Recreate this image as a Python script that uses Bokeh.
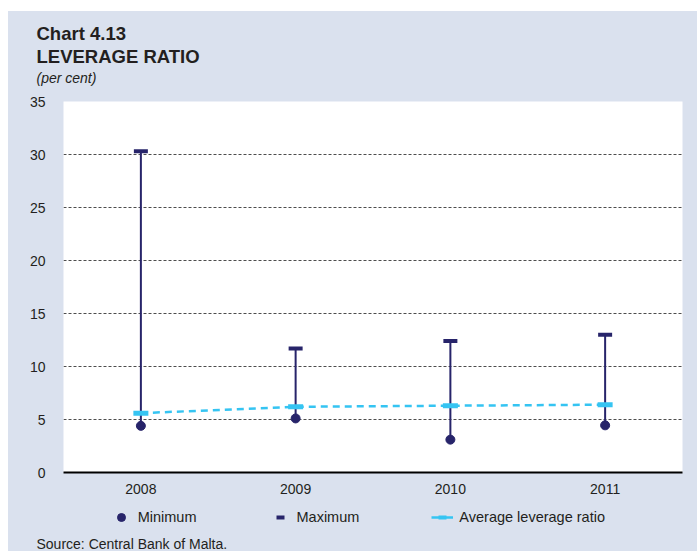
from bokeh.plotting import figure
from bokeh.models import (FactorRange, Range1d, FixedTicker, Legend, Title,
                          LegendItem, ColumnDataSource, Spacer)
from bokeh.layouts import column, row
from bokeh.embed import file_html
from bokeh.resources import INLINE

# ---- data (per cent) ----
years = ["2008", "2009", "2010", "2011"]
minimum = [4.4, 5.1, 3.1, 4.45]
maximum = [30.3, 11.7, 12.4, 13.0]
average = [5.6, 6.2, 6.3, 6.4]
y_ticks = [0, 5, 10, 15, 20, 25, 30, 35]

NAVY = "#27246A"
CYAN = "#35C4F2"
PANEL = "#DAE1EE"
TEXT = "#231F20"
GRID = "#4D4D4D"
FONT = "Liberation Sans"

W = 689
TOP_H, MAIN_H, BOT_H = 80, 412, 48
BL, BR = 55, 15  # left / right borders shared by all three figures


def plain(height, top, bottom):
    f = figure(width=W, height=height, x_range=Range1d(0, 1), y_range=Range1d(0, 1),
               x_axis_type=None, y_axis_type=None,
               output_backend="svg", toolbar_location=None,
               min_border_left=BL, min_border_right=BR,
               min_border_top=top, min_border_bottom=bottom)
    f.grid.visible = False
    f.background_fill_alpha = 0
    f.border_fill_alpha = 0
    f.outline_line_color = None
    return f


common = dict(text_font=FONT, text_color=TEXT, align="left", offset=-27)

# ---- header (titles stack upward from the frame; first added is nearest) ----
top = plain(TOP_H, 74, 0)
top.add_layout(Title(text="(per cent)", text_font_size="14px", text_font_style="italic",
                     standoff=0, **common), "above")
top.add_layout(Title(text="LEVERAGE RATIO", text_font_size="18.5px", text_font_style="bold",
                     standoff=1, **common), "above")
top.add_layout(Title(text="Chart 4.13", text_font_size="18.5px", text_font_style="bold",
                     standoff=0, **common), "above")

# ---- main chart ----
p = figure(width=W, height=MAIN_H, x_range=FactorRange(*years), y_range=Range1d(0, 35),
           output_backend="svg", toolbar_location=None,
           min_border_left=BL, min_border_right=BR, min_border_top=10, min_border_bottom=31)
p.background_fill_color = "white"
p.border_fill_alpha = 0
p.outline_line_color = None

src = ColumnDataSource(dict(year=years, mn=minimum, mx=maximum, avg=average))

p.segment(x0="year", y0="mn", x1="year", y1="mx", source=src, line_color=NAVY, line_width=2)
p.line(x="year", y="avg", source=src, line_color=CYAN, line_width=2.5, line_dash="7 5")
p.scatter(x="year", y="avg", source=src, marker="dash", size=15, line_color=CYAN, line_width=5)
p.scatter(x="year", y="mx", source=src, marker="dash", size=14, line_color=NAVY, line_width=4)
p.scatter(x="year", y="mn", source=src, marker="circle", size=9, fill_color=NAVY, line_color=NAVY)

p.yaxis.ticker = FixedTicker(ticks=y_ticks)
p.yaxis.axis_line_color = None
p.yaxis.major_tick_line_color = None
p.yaxis.minor_tick_line_color = None
p.yaxis.major_label_standoff = 12
p.yaxis.major_label_text_font = FONT
p.yaxis.major_label_text_font_size = "14px"
p.yaxis.major_label_text_color = TEXT

p.xaxis.axis_line_color = "black"
p.xaxis.axis_line_width = 2
p.xaxis.major_tick_line_color = None
p.xaxis.minor_tick_line_color = None
p.xaxis.major_label_standoff = 5
p.xaxis.major_label_text_font = FONT
p.xaxis.major_label_text_font_size = "14px"
p.xaxis.major_label_text_color = TEXT

p.xgrid.grid_line_color = None
p.ygrid.grid_line_color = GRID
p.ygrid.grid_line_dash = "3 2"
p.ygrid.grid_line_width = 1

# ---- footer: legend + source ----
bot = plain(BOT_H, 0, 18)
# legend-only proxies (one undrawable point each, so the legend has a style to use)
proxy = ColumnDataSource(dict(x=[float("nan")], y=[float("nan")]))
lg_min = bot.scatter(x="x", y="y", source=proxy, marker="circle", size=9,
                     fill_color=NAVY, line_color=NAVY)
lg_max = bot.scatter(x="x", y="y", source=proxy, marker="dash", size=10,
                     line_color=NAVY, line_width=4)
lg_avg_line = bot.line(x="x", y="y", source=proxy, line_color=CYAN, line_width=2.5)
lg_avg_mark = bot.scatter(x="x", y="y", source=proxy, marker="dash", size=12,
                          line_color=CYAN, line_width=4)

legend = Legend(items=[LegendItem(label="Minimum", renderers=[lg_min]),
                       LegendItem(label="Maximum", renderers=[lg_max]),
                       LegendItem(label="Average leverage ratio",
                                  renderers=[lg_avg_line, lg_avg_mark])],
                location=(46.7, 6), orientation="horizontal",
                glyph_width=22, glyph_height=20, label_height=20, label_standoff=6,
                spacing=72, padding=0, margin=0, border_line_color=None,
                background_fill_alpha=0, label_text_font=FONT,
                label_text_font_size="14.5px", label_text_color=TEXT)
bot.add_layout(legend)
bot.add_layout(Title(text="Source: Central Bank of Malta.", text_font_size="14px",
                     text_font_style="normal", standoff=0, **common), "below")

panel = column(top, p, bot, styles={"background-color": PANEL})
layout = column(Spacer(width=697, height=11),
                row(Spacer(width=8, height=TOP_H + MAIN_H + BOT_H), panel))
open("out.html", "w").write(file_html(layout, INLINE))
